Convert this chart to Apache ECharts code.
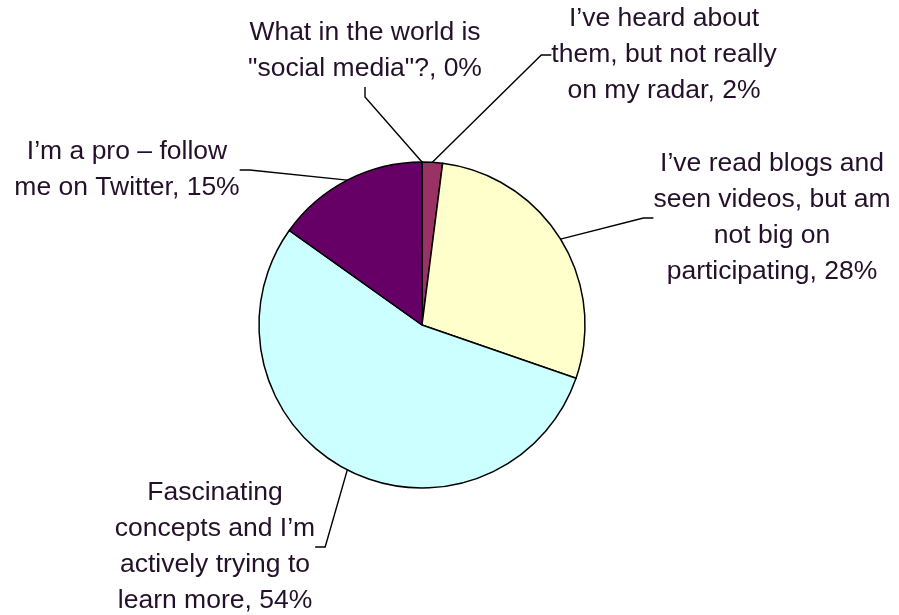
<!DOCTYPE html>
<html><head><meta charset="utf-8">
<script src="https://cdn.jsdelivr.net/npm/echarts@6/dist/echarts.min.js"></script>
<style>html,body{margin:0;padding:0;background:#fff}#c{width:899px;height:615px}</style>
</head><body><div id="c"></div>
<script>
const categories = [
  'What in the world is\n"social media"?',
  'I\u2019ve heard about\nthem, but not really\non my radar',
  'I\u2019ve read blogs and\nseen videos, but am\nnot big on\nparticipating',
  'Fascinating\nconcepts and I\u2019m\nactively trying to\nlearn more',
  'I\u2019m a pro \u2013 follow\nme on Twitter'
];
const percents = [0, 2, 28, 54, 15];
const colors = ['#9999FF', '#993366', '#FFFFCC', '#CCFFFF', '#660066'];

const labelPos = [[365, 51], [664, 55], [772, 218], [215, 547], [127, 170]];

const chart = echarts.init(document.getElementById('c'), null, {renderer: 'canvas'});
chart.setOption({
  animation: false,
  series: [{
    type: 'pie',
    center: [422, 325],
    radius: 163,
    startAngle: 90,
    clockwise: true,
    avoidLabelOverlap: false,
    data: categories.map((n, i) => ({name: n, value: percents[i], itemStyle: {color: colors[i]}})),
    itemStyle: {borderColor: '#000', borderWidth: 1.5},
    label: {
      show: true,
      formatter: p => p.name + ', ' + p.value + '%',
      fontFamily: 'Liberation Sans, Arial, sans-serif',
      fontSize: 26.5,
      lineHeight: 36,
      color: '#24102a',
      align: 'center'
    },
    labelLine: {show: true, lineStyle: {color: '#000', width: 1.4}, length: 15, length2: 10},
    labelLayout: function (params) {
      const p = labelPos[params.dataIndex];
      return {x: p[0], y: p[1], align: 'center', verticalAlign: 'middle'};
    },
    emphasis: {disabled: true}
  }]
});
</script></body></html>
